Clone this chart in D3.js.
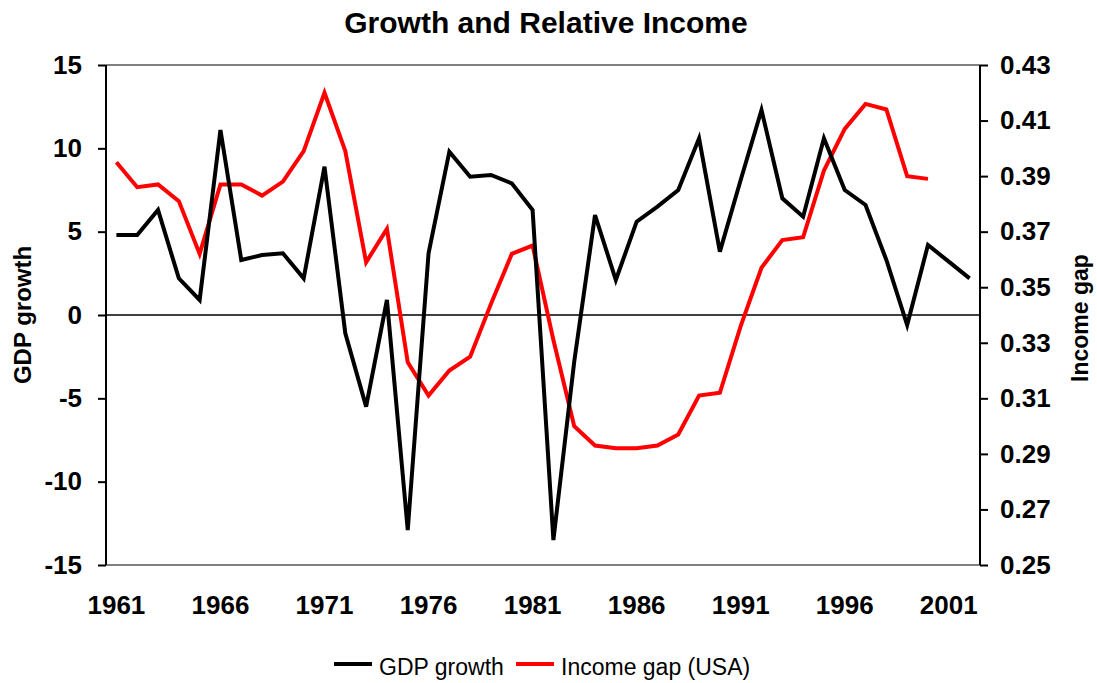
<!DOCTYPE html>
<html>
<head>
<meta charset="utf-8">
<script src="https://cdn.jsdelivr.net/npm/d3@7"></script>
<style>
  body { margin: 0; background: #fff; }
  svg { display: block; font-family: "Liberation Sans", Arial, sans-serif; }
</style>
</head>
<body>
<svg id="chart" width="1097" height="683"></svg>
<script>
// years on the category axis
var years = d3.range(1961, 2003);
var yearLabels = [1961, 1966, 1971, 1976, 1981, 1986, 1991, 1996, 2001];

// GDP growth, 1961-2002
var gdpGrowth = [4.8, 4.8, 6.3, 2.2, 0.9, 11.1, 3.3, 3.6, 3.7, 2.2,
  8.9, -1.1, -5.5, 0.9, -12.9, 3.7, 9.8, 8.3, 8.4, 7.9,
  6.3, -13.5, -2.8, 6.0, 2.1, 5.6, 6.5, 7.5, 10.6, 3.8,
  8.1, 12.3, 7.0, 5.9, 10.6, 7.5, 6.6, 3.3, -0.6, 4.2,
  3.2, 2.2];

// income gap relative to USA, 1961-2000
var incomeGap = [0.395, 0.386, 0.387, 0.381, 0.362, 0.387, 0.387, 0.383, 0.388, 0.399,
  0.420, 0.399, 0.359, 0.371, 0.323, 0.311, 0.320, 0.325, 0.344, 0.362,
  0.365, 0.331, 0.300, 0.293, 0.292, 0.292, 0.293, 0.297, 0.311, 0.312,
  0.336, 0.357, 0.367, 0.368, 0.392, 0.407, 0.416, 0.414, 0.390, 0.389];

var leftTicks = [-15, -10, -5, 0, 5, 10, 15];
var rightTicks = [0.25, 0.27, 0.29, 0.31, 0.33, 0.35, 0.37, 0.39, 0.41, 0.43];

var svg = d3.select('#chart');
var m = { left: 106, right: 980, top: 65, bottom: 565 };

var x = d3.scaleBand().domain(years).range([m.left, m.right]);
var yL = d3.scaleLinear().domain([-15, 15]).range([m.bottom, m.top]);
var yR = d3.scaleLinear().domain([0.25, 0.43]).range([m.bottom, m.top]);
var cx = function(yr) { return x(yr) + x.bandwidth() / 2; };

// title
svg.append('text')
  .attr('x', 546).attr('y', 33)
  .attr('text-anchor', 'middle')
  .style('font-size', '30px').style('font-weight', 'bold')
  .text('Growth and Relative Income');

// plot border top/bottom
svg.append('line').attr('x1', m.left).attr('x2', m.right).attr('y1', m.top).attr('y2', m.top)
  .attr('stroke', '#808080').attr('stroke-width', 2);
svg.append('line').attr('x1', m.left).attr('x2', m.right).attr('y1', m.bottom).attr('y2', m.bottom)
  .attr('stroke', '#808080').attr('stroke-width', 2);

// zero line
svg.append('line').attr('x1', m.left).attr('x2', m.right).attr('y1', yL(0)).attr('y2', yL(0))
  .attr('stroke', '#000').attr('stroke-width', 1.5);

// left axis (plain hyphen for negatives, like the original)
var gl = svg.append('g').attr('transform', 'translate(' + m.left + ',0)')
  .call(d3.axisLeft(yL).tickValues(leftTicks).tickSize(8).tickPadding(16)
    .tickFormat(function(d) { return String(d); }));
// right axis
var gr = svg.append('g').attr('transform', 'translate(' + m.right + ',0)')
  .call(d3.axisRight(yR).tickValues(rightTicks).tickSize(8).tickPadding(12).tickFormat(d3.format('.2f')));

[gl, gr].forEach(function(g) {
  g.select('.domain').attr('stroke', '#000').attr('stroke-width', 2);
  g.selectAll('.tick line').attr('stroke', '#000').attr('stroke-width', 2);
  g.selectAll('.tick text').style('font-size', '26px').style('font-weight', 'bold')
    .style('font-family', '"Liberation Sans", Arial, sans-serif').attr('fill', '#000');
});
gl.select('.domain').attr('d', 'M0,' + m.top + 'V' + m.bottom);
gr.select('.domain').attr('d', 'M0,' + m.top + 'V' + m.bottom);

// x labels
svg.append('g').selectAll('text').data(yearLabels).join('text')
  .attr('x', function(d) { return cx(d); })
  .attr('y', 614)
  .attr('text-anchor', 'middle')
  .style('font-size', '26px').style('font-weight', 'bold')
  .text(function(d) { return d; });

// axis titles
svg.append('text')
  .attr('transform', 'translate(31,315) rotate(-90)')
  .attr('text-anchor', 'middle')
  .style('font-size', '24px').style('font-weight', 'bold')
  .text('GDP growth');
svg.append('text')
  .attr('transform', 'translate(1088,318) rotate(-90)')
  .attr('text-anchor', 'middle')
  .style('font-size', '23px').style('font-weight', 'bold')
  .text('Income gap');

// series
var lineL = d3.line().x(function(d, i) { return cx(years[i]); }).y(function(d) { return yL(d); });
var lineR = d3.line().x(function(d, i) { return cx(years[i]); }).y(function(d) { return yR(d); });

svg.append('path').datum(incomeGap).attr('d', lineR)
  .attr('fill', 'none').attr('stroke', '#ff0000').attr('stroke-width', 4).attr('stroke-linejoin', 'miter');
svg.append('path').datum(gdpGrowth).attr('d', lineL)
  .attr('fill', 'none').attr('stroke', '#000').attr('stroke-width', 4).attr('stroke-linejoin', 'miter');

// legend
var legend = [
  { name: 'GDP growth', color: '#000', x: 334 },
  { name: 'Income gap (USA)', color: '#ff0000', x: 516 }
];
var lg = svg.append('g').selectAll('g').data(legend).join('g')
  .attr('transform', function(d) { return 'translate(' + d.x + ',664)'; });
lg.append('line').attr('x1', 0).attr('x2', 38).attr('y1', 0).attr('y2', 0)
  .attr('stroke', function(d) { return d.color; }).attr('stroke-width', 4);
lg.append('text').attr('x', 45).attr('y', 11)
  .style('font-size', '23px')
  .text(function(d) { return d.name; });
</script>
</body>
</html>
